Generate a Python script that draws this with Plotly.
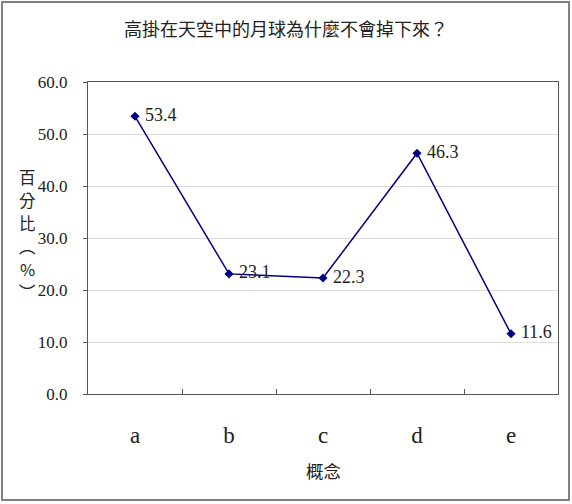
import plotly.graph_objects as go

categories = ["a", "b", "c", "d", "e"]
values = [53.4, 23.1, 22.3, 46.3, 11.6]
y_ticks = [0, 10, 20, 30, 40, 50, 60]
y_tick_labels = ["%.1f" % v for v in y_ticks]
title_text = "高掛在天空中的月球為什麼不會掉下來？"
x_title = "概念"
y_title_chars = ["百", "分", "比", "︵", "%", "︶"]

W, H = 572, 504
L, R, T, B = 88, 14, 82, 110
pw, ph = W - L - R, H - T - B

serif = "Liberation Serif"
cjk = "Noto Sans CJK TC"

fig = go.Figure()
fig.add_trace(go.Scatter(
    x=categories, y=values, mode="lines+markers+text",
    line=dict(color="#000080", width=1.5),
    marker=dict(symbol="diamond", size=7, color="#000080"),
    text=[" %.1f" % v for v in values],
    textposition="middle right",
    textfont=dict(family=serif, size=18, color="#222222"),
    cliponaxis=False,
    showlegend=False,
))

def px_x(x):
    return (x - L) / pw

def px_y(y):
    return (H - B - y) / ph

fig.update_layout(
    width=W, height=H,
    margin=dict(l=L, r=R, t=T, b=B),
    paper_bgcolor="white", plot_bgcolor="white",
    title=dict(text=title_text, x=286 / W, xanchor="center", y=1 - 30 / H, yanchor="middle",
               font=dict(family=cjk, size=18, color="#222222")),
    xaxis=dict(
        type="category", range=[-0.5, 4.5],
        showline=True, linecolor="#555555", linewidth=1, mirror=True,
        ticks="inside", tickson="boundaries", ticklen=5, tickcolor="#555555",
        showgrid=False,
        tickfont=dict(family=serif, size=23, color="#222222"),
        ticklabelstandoff=20,
    ),
    yaxis=dict(
        range=[0, 60], tickvals=y_ticks, ticktext=y_tick_labels,
        showline=True, linecolor="#555555", linewidth=1, mirror=True,
        ticks="outside", ticklen=4, tickcolor="#555555",
        showgrid=True, gridcolor="#dcdcdc", gridwidth=1,
        zeroline=False,
        tickfont=dict(family=serif, size=17, color="#222222"),
        ticklabelstandoff=12,
    ),
)

fig.add_annotation(
    text=x_title, xref="paper", yref="paper", x=0.5, y=px_y(470),
    xanchor="center", yanchor="middle", showarrow=False,
    font=dict(family=cjk, size=17.5, color="#222222"),
)
for i, ch in enumerate(y_title_chars):
    fig.add_annotation(
        text=ch, xref="paper", yref="paper",
        x=px_x(27), y=px_y(177 + 23 * i), xanchor="center", yanchor="middle",
        showarrow=False, borderpad=0,
        font=dict(family=cjk, size=16.5, color="#222222"),
    )

fig.add_shape(
    type="rect", xref="paper", yref="paper",
    x0=px_x(2), x1=px_x(569), y0=px_y(500), y1=px_y(2),
    line=dict(color="#808080", width=2), fillcolor="rgba(0,0,0,0)", layer="below",
)

fig.write_html("out.html")
